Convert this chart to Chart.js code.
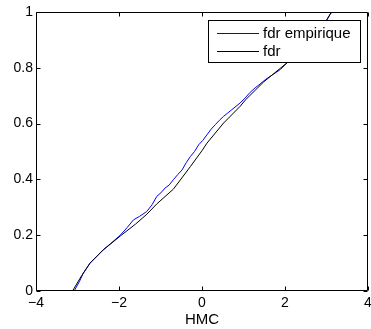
<!DOCTYPE html>
<html>
<head>
<meta charset="utf-8">
<script src="https://cdn.jsdelivr.net/npm/chart.js@4.4.0/dist/chart.umd.min.js"></script>
<style>
  html, body { margin: 0; padding: 0; background: #fff; }
  #wrap { width: 371px; height: 329px; }
</style>
</head>
<body>
<div id="wrap"><canvas id="myChart" width="371" height="329"></canvas></div>
<script>
// fdr (theoretical)
const fdrX = [-3.12, -2.9, -2.7, -2.38, -1.97, -1.6, -1.33, -1.09, -0.69, -0.28, 0, 0.12, 0.52, 0.92, 1.04, 1.49, 2.05, 2.4, 2.7, 2.9, 3.12];
const fdrY = [0, 0.055, 0.099, 0.147, 0.197, 0.24, 0.275, 0.312, 0.365, 0.446, 0.503, 0.53, 0.602, 0.662, 0.684, 0.75, 0.818, 0.858, 0.902, 0.945, 1.0];

// fdr empirique
const empX = [-3.08, -2.95, -2.86, -2.7, -2.5, -2.38, -2.2, -1.97, -1.8, -1.65, -1.5, -1.33, -1.2, -1.09, -0.99, -0.89, -0.79, -0.69, -0.58, -0.48, -0.38, -0.28, -0.18, -0.08, 0.02, 0.12, 0.22, 0.32, 0.42, 0.52, 0.62, 0.72, 0.82, 0.92, 1.04, 1.16, 1.28, 1.4, 1.53, 1.7, 1.89, 2.05, 2.4, 2.7, 2.9, 3.08, 3.13];
const empY = [0, 0.035, 0.064, 0.1, 0.13, 0.148, 0.17, 0.2, 0.228, 0.255, 0.268, 0.285, 0.31, 0.339, 0.352, 0.369, 0.38, 0.399, 0.418, 0.434, 0.46, 0.482, 0.5, 0.524, 0.54, 0.56, 0.58, 0.596, 0.612, 0.626, 0.638, 0.65, 0.662, 0.674, 0.692, 0.712, 0.728, 0.742, 0.758, 0.775, 0.794, 0.818, 0.86, 0.905, 0.945, 0.99, 1.0];

const xTicks = [-4, -2, 0, 2, 4];
const yTicks = [0, 0.2, 0.4, 0.6, 0.8, 1];
const xTitle = 'HMC';

const FONT = '"Liberation Sans", Arial, sans-serif';
const EMP_COLOR = '#0000ff';
const FDR_COLOR = '#000000';

function pts(xs, ys) {
    return xs.map((x, i) => ({ x: x, y: ys[i] }));
}

// box, inward ticks on all sides, legend inside the axes
const matlabPlugin = {
    id: 'matlab',
    afterDatasetsDraw(chart) {
        const ctx = chart.ctx;
        const a = chart.chartArea;
        const xs = chart.scales.x, ys = chart.scales.y;
        const L = Math.round(a.left) + 0.5, R = Math.round(a.right) - 0.5;
        const T = Math.round(a.top) + 0.5, B = Math.round(a.bottom) - 0.5;
        ctx.save();
        ctx.strokeStyle = '#000';
        ctx.lineWidth = 1;
        ctx.beginPath();
        ctx.rect(L, T, R - L, B - T);
        xTicks.forEach(v => {
            const px = Math.round(xs.getPixelForValue(v)) + 0.5;
            ctx.moveTo(px, B); ctx.lineTo(px, B - 4);
            ctx.moveTo(px, T); ctx.lineTo(px, T + 4);
        });
        yTicks.forEach(v => {
            const py = Math.round(ys.getPixelForValue(v)) + 0.5;
            ctx.moveTo(L, py); ctx.lineTo(L + 4, py);
            ctx.moveTo(R, py); ctx.lineTo(R - 4, py);
        });
        ctx.stroke();

        // legend
        const bx = 208.5, by = 20.5, bw = 152, bh = 42;
        ctx.fillStyle = '#fff';
        ctx.fillRect(bx, by, bw, bh);
        ctx.strokeRect(bx, by, bw, bh);
        ctx.font = '15px ' + FONT;
        ctx.textBaseline = 'middle';
        const items = [['fdr empirique', EMP_COLOR], ['fdr', FDR_COLOR]];
        items.forEach((it, i) => {
            const y = Math.round(by + 12 + i * 18) + 0.5;
            ctx.beginPath();
            ctx.strokeStyle = it[1];
            ctx.moveTo(217, y); ctx.lineTo(259, y);
            ctx.stroke();
            ctx.fillStyle = '#000';
            ctx.fillText(it[0], 263, y);
        });
        ctx.restore();
    }
};

const ctx = document.getElementById('myChart').getContext('2d');
const myChart = new Chart(ctx, {
    type: 'scatter',
    data: {
        datasets: [{
            label: 'fdr empirique',
            data: pts(empX, empY),
            showLine: true,
            borderColor: EMP_COLOR,
            borderWidth: 1,
            pointRadius: 0,
            order: 1
        }, {
            label: 'fdr',
            data: pts(fdrX, fdrY),
            showLine: true,
            borderColor: FDR_COLOR,
            borderWidth: 1,
            pointRadius: 0,
            order: 0
        }]
    },
    options: {
        responsive: false,
        animation: false,
        layout: { padding: { top: 12, right: 3, left: 0, bottom: 0 } },
        plugins: {
            legend: { display: false },
            tooltip: { enabled: false }
        },
        scales: {
            x: {
                type: 'linear',
                min: -4, max: 4,
                afterBuildTicks: s => { s.ticks = xTicks.map(v => ({ value: v })); },
                afterFit: s => { s.height = 38; s.paddingLeft = 0; s.paddingRight = 0; },
                grid: { display: false, drawTicks: false },
                border: { display: false },
                ticks: {
                    color: '#000',
                    padding: 4,
                    maxRotation: 0,
                    font: { family: FONT, size: 14 },
                    callback: v => (v < 0 ? '\u2212' + Math.abs(v) : String(v))
                },
                title: {
                    display: true,
                    text: xTitle,
                    color: '#000',
                    padding: { top: 0, bottom: 0 },
                    font: { family: FONT, size: 15 }
                }
            },
            y: {
                type: 'linear',
                min: 0, max: 1,
                afterBuildTicks: s => { s.ticks = yTicks.map(v => ({ value: v })); },
                afterFit: s => { s.width = 36; s.paddingTop = 0; s.paddingBottom = 0; },
                grid: { display: false, drawTicks: false },
                border: { display: false },
                ticks: {
                    color: '#000',
                    padding: 3,
                    font: { family: FONT, size: 14 },
                    callback: v => String(Math.round(v * 10) / 10)
                }
            }
        }
    },
    plugins: [matlabPlugin]
});
</script>
</body>
</html>
